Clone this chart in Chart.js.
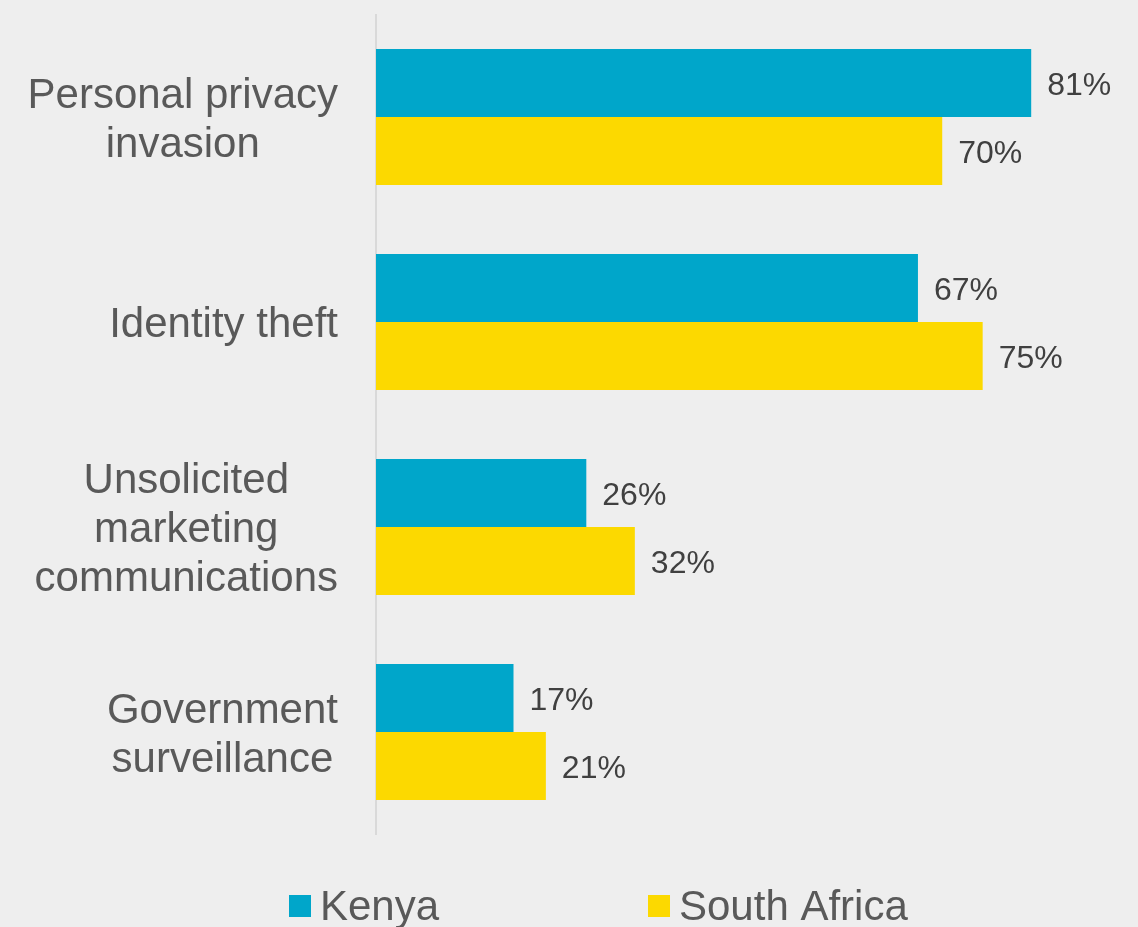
<!DOCTYPE html>
<html>
<head>
<meta charset="utf-8">
<title>Privacy concerns: Kenya vs South Africa</title>
<script src="https://cdn.jsdelivr.net/npm/chart.js@4/dist/chart.umd.min.js"></script>
<style>
  html, body { margin: 0; padding: 0; background: #eeeeee; }
  #wrap { width: 1138px; height: 927px; position: relative; }
</style>
</head>
<body>
<div id="wrap"><canvas id="chart" width="1138" height="927"></canvas></div>
<script>
// Categories (each entry is the list of lines shown for that label)
const categories = [
  ["Personal privacy", "invasion"],
  ["Identity theft"],
  ["Unsolicited", "marketing", "communications"],
  ["Government", "surveillance"]
];
const seriesNames = ["Kenya", "South Africa"];
const kenya = [81, 67, 26, 17];
const southAfrica = [70, 75, 32, 21];

const FONT = "'Liberation Sans', Arial, Helvetica, sans-serif";
const COLORS = ["#00a6ca", "#fcd900"];
const CAP = 0.358; // cap-height centre offset, as a fraction of the font size

// Paints the page background behind the chart
const bgPlugin = {
  id: 'bg',
  beforeDraw(chart) {
    const ctx = chart.ctx;
    ctx.save();
    ctx.fillStyle = '#eeeeee';
    ctx.fillRect(0, 0, chart.width, chart.height);
    ctx.restore();
  }
};

// Category labels: block right-aligned next to the axis, lines centred within the block
const categoryLabels = {
  id: 'categoryLabels',
  afterDraw(chart) {
    const ctx = chart.ctx;
    const y = chart.scales.y;
    const right = chart.chartArea.left - 38;
    const size = 42, lineH = 49;
    ctx.save();
    ctx.font = `${size}px ${FONT}`;
    ctx.fillStyle = '#595959';
    ctx.textAlign = 'center';
    ctx.textBaseline = 'alphabetic';
    categories.forEach((lines, i) => {
      const cy = y.getPixelForValue(i);
      const w = Math.max(...lines.map(l => ctx.measureText(l).width));
      const cx = right - w / 2;
      const top = cy - (lines.length - 1) * lineH / 2;
      lines.forEach((l, k) => ctx.fillText(l, cx, top + k * lineH + CAP * size));
    });
    ctx.restore();
  }
};

// Value labels at the end of each bar
const valueLabels = {
  id: 'valueLabels',
  afterDatasetsDraw(chart) {
    const ctx = chart.ctx;
    const size = 32;
    ctx.save();
    ctx.font = `${size}px ${FONT}`;
    ctx.fillStyle = '#404040';
    ctx.textAlign = 'left';
    ctx.textBaseline = 'alphabetic';
    chart.data.datasets.forEach((ds, di) => {
      const meta = chart.getDatasetMeta(di);
      meta.data.forEach((bar, i) => {
        ctx.fillText(ds.data[i] + '%', bar.x + 16, bar.y + 0.5 + CAP * size);
      });
    });
    ctx.restore();
  }
};

// Legend along the bottom edge
const bottomLegend = {
  id: 'bottomLegend',
  afterDraw(chart) {
    const ctx = chart.ctx;
    const starts = [289, 648];
    const boxTop = 895, box = 22, baseline = 920;
    ctx.save();
    ctx.font = `42px ${FONT}`;
    ctx.textAlign = 'left';
    ctx.textBaseline = 'alphabetic';
    chart.data.datasets.forEach((ds, di) => {
      const x = starts[di];
      ctx.fillStyle = ds.backgroundColor;
      ctx.fillRect(x, boxTop, box, box);
      ctx.fillStyle = '#595959';
      ctx.fillText(ds.label, x + box + 9, baseline);
    });
    ctx.restore();
  }
};

new Chart(document.getElementById('chart'), {
  type: 'bar',
  data: {
    labels: categories,
    datasets: [
      { label: seriesNames[0], data: kenya, backgroundColor: COLORS[0], borderWidth: 0 },
      { label: seriesNames[1], data: southAfrica, backgroundColor: COLORS[1], borderWidth: 0 }
    ]
  },
  options: {
    indexAxis: 'y',
    responsive: false,
    animation: false,
    devicePixelRatio: 1,
    layout: { padding: { top: 14.5, bottom: 92.5, right: 34, left: 0 } },
    datasets: { bar: { categoryPercentage: 136 / 205, barPercentage: 1 } },
    scales: {
      x: { display: false, min: 0, max: 90 },
      y: {
        display: true,
        ticks: { display: false },
        grid: { display: false },
        border: { display: true, color: '#d9d9d9', width: 2 },
        afterFit(scale) { scale.width = 376; }
      }
    },
    plugins: {
      legend: { display: false },
      tooltip: { enabled: false }
    }
  },
  plugins: [bgPlugin, categoryLabels, valueLabels, bottomLegend]
});
</script>
</body>
</html>
